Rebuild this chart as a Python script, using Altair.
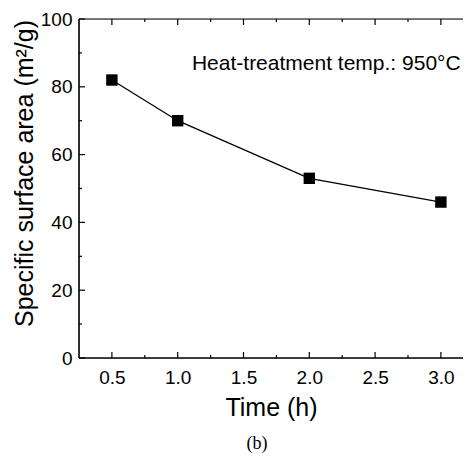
import altair as alt
import pandas as pd

# data
time_h = [0.5, 1.0, 2.0, 3.0]
area = [82, 70, 53, 46]

x_major = [0.5, 1.0, 1.5, 2.0, 2.5, 3.0]
x_minor = [0.75, 1.25, 1.75, 2.25, 2.75]
y_major = [0, 20, 40, 60, 80, 100]
y_minor = [10, 30, 50, 70, 90]

annotation = "Heat-treatment temp.: 950°C"
caption = "(b)"

W, H = 384, 339
FONT = "Liberation Sans"
XT = "Time (h)"
YT = "Specific surface area (m²/g)"

# the original figure is cropped on the right, just past x = 3.17
xscale = alt.Scale(domain=[0.25, 3.168], nice=False, zero=False)
yscale = alt.Scale(domain=[0, 100], nice=False)

df = pd.DataFrame({"time": time_h, "area": area})

xaxis = alt.Axis(values=x_major, format=".1f", tickSize=0, domain=False, grid=False,
                 labelFont=FONT, labelFontSize=19, labelColor="black", labelPadding=10,
                 titleFont=FONT, titleFontSize=25, titleFontWeight="normal", titleColor="black",
                 titlePadding=8)
yaxis = alt.Axis(values=y_major, tickSize=0, domain=False, grid=False,
                 labelFont=FONT, labelFontSize=19, labelColor="black", labelPadding=7,
                 titleFont=FONT, titleFontSize=25, titleFontWeight="normal", titleColor="black",
                 titlePadding=3, titleY=154)

line = alt.Chart(df).mark_line(color="black", strokeWidth=1.3).encode(
    x=alt.X("time:Q", scale=xscale, axis=xaxis, title=XT),
    y=alt.Y("area:Q", scale=yscale, axis=yaxis, title=YT),
)
pts = alt.Chart(df).mark_square(color="black", size=130, opacity=1).encode(
    x=alt.X("time:Q", title=XT), y=alt.Y("area:Q", title=YT)
)

frame_df = pd.DataFrame({"k": [0]})
frame = [
    alt.Chart(frame_df).mark_rule(color="black", strokeWidth=1.6).encode(
        x=alt.value(0), y=alt.value(0), y2=alt.value(H)),
    alt.Chart(frame_df).mark_rule(color="black", strokeWidth=1.6).encode(
        x=alt.value(0), x2=alt.value(W), y=alt.value(H)),
    alt.Chart(frame_df).mark_rule(color="black", strokeWidth=1.2).encode(
        x=alt.value(0), x2=alt.value(W), y=alt.value(0)),
]

def ticks_y(vals, length):
    d = pd.DataFrame({"area": vals})
    return [alt.Chart(d).mark_rule(color="black", strokeWidth=1.2).encode(
        y=alt.Y("area:Q", title=YT), x=alt.value(0), x2=alt.value(length))]

def ticks_x(vals, length):
    d = pd.DataFrame({"time": vals})
    bottom = alt.Chart(d).mark_rule(color="black", strokeWidth=1.2).encode(
        x=alt.X("time:Q", title=XT), y=alt.value(H), y2=alt.value(H - length))
    top = alt.Chart(d).mark_rule(color="black", strokeWidth=1.2).encode(
        x=alt.X("time:Q", title=XT), y=alt.value(0), y2=alt.value(length))
    return [bottom, top]

ann = alt.Chart(pd.DataFrame({"time": [3.15], "area": [85], "t": [annotation]})).mark_text(
    align="right", baseline="alphabetic", font=FONT, fontSize=21, color="black"
).encode(x=alt.X("time:Q", title=XT), y=alt.Y("area:Q", title=YT), text="t:N")

cap = alt.Chart(pd.DataFrame({"t": [caption]})).mark_text(
    align="center", baseline="middle", font="Liberation Serif", fontSize=18, color="black"
).encode(x=alt.value(178), y=alt.value(H + 86), text="t:N")

layers = ([line, pts] + frame + ticks_y(y_major, 6) + ticks_y(y_minor, 3)
          + ticks_x(x_major, 6) + ticks_x(x_minor, 3) + [ann, cap])

chart = alt.layer(*layers).properties(
    width=W, height=H,
    autosize=alt.AutoSizeParams(type="none"),
    padding={"left": 71, "top": 11, "right": 0, "bottom": 97},
).configure_view(stroke=None).configure(background="white")

chart.save("out.html", embed_options={"renderer": "svg", "actions": False})
